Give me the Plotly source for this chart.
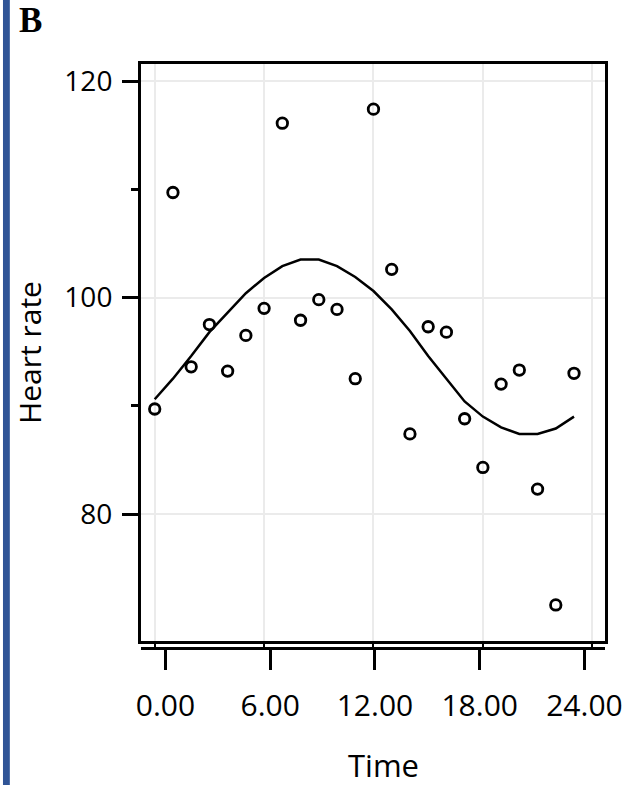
import plotly.graph_objects as go

# ---- data ----
hours = list(range(24))
heart_rate = [89.7, 109.7, 93.6, 97.5, 93.2, 96.5, 99.0, 116.1, 97.9, 99.8, 98.9, 92.5,
              117.4, 102.6, 87.4, 97.3, 96.8, 88.8, 84.3, 92.0, 93.3, 82.3, 71.6, 93.0]
fitted = [90.6, 92.5, 94.6, 96.8, 98.6, 100.4, 101.8, 102.9, 103.5, 103.5, 102.9, 101.9,
          100.6, 98.9, 96.9, 94.6, 92.5, 90.4, 89.0, 88.0, 87.4, 87.4, 87.9, 89.0]
x_ticks = [0, 6, 12, 18, 24]
y_ticks = [80, 100, 120]
y_minor = [90, 110]
panel_label = "B"
x_title = "Time"
y_title = "Heart rate"

W, H = 634, 785
ML, MR, MT, MB = 141, 19, 64, 137
PW, PH = W - ML - MR, H - MT - MB

def px_x(p):
    return (p - ML) / PW

def px_y(p):
    return (H - MB - p) / PH

tick_font = "Open Sans, Roboto, sans-serif"

fig = go.Figure()
fig.add_trace(go.Scatter(x=hours, y=fitted, mode="lines",
                         line=dict(color="black", width=2.5),
                         showlegend=False, hoverinfo="skip"))
fig.add_trace(go.Scatter(x=hours, y=heart_rate, mode="markers",
                         marker=dict(symbol="circle-open", size=10.5, color="black",
                                     line=dict(width=2.8, color="black")),
                         showlegend=False))
# invisible trace to carry the lower labelled time axis
fig.add_trace(go.Scatter(x=x_ticks, y=[None] * len(x_ticks), xaxis="x2", yaxis="y",
                         mode="markers", showlegend=False, hoverinfo="skip"))

fig.update_layout(
    width=W, height=H,
    margin=dict(l=ML, r=MR, t=MT, b=MB),
    paper_bgcolor="white", plot_bgcolor="white",
    xaxis=dict(domain=[0, 1], range=[-0.752, 24.70], tickvals=x_ticks,
               showticklabels=False, ticks="outside", ticklen=6, tickwidth=2,
               tickcolor="black",
               showgrid=True, gridcolor="#ebebeb", gridwidth=2,
               showline=True, linecolor="black", linewidth=3, mirror=True,
               zeroline=False, fixedrange=True),
    xaxis2=dict(overlaying="x", range=[-1.402, 25.178],
                anchor="free", position=0, tickvals=x_ticks, tickformat=".2f",
                ticks="outside", ticklen=20, tickwidth=3, tickcolor="black",
                showgrid=False, showline=True, linecolor="black", linewidth=3,
                zeroline=False, ticklabelstandoff=10,
                tickfont=dict(family=tick_font, size=30, color="black")),
    yaxis=dict(domain=[px_y(641), 1], range=[68.27, 121.57], tickvals=y_ticks,
               ticks="outside", ticklen=16, tickwidth=3, tickcolor="black",
               minor=dict(tickvals=y_minor, ticks="outside", ticklen=7, tickwidth=3,
                          tickcolor="black", showgrid=False),
               showgrid=True, gridcolor="#ebebeb", gridwidth=2,
               showline=True, linecolor="black", linewidth=3, mirror=True,
               zeroline=False, ticklabelstandoff=4,
               tickfont=dict(family=tick_font, size=28, color="black"),
               title=dict(text=y_title, standoff=14,
                          font=dict(family="Open Sans, sans-serif", size=30, color="black"))),
    shapes=[dict(type="rect", xref="paper", yref="paper",
                 x0=px_x(0), x1=px_x(7), y0=px_y(H), y1=px_y(0),
                 fillcolor="#2f5496", line=dict(width=0), layer="below")],
    annotations=[
        dict(text="<b>" + panel_label + "</b>", xref="paper", yref="paper",
             x=px_x(14), y=px_y(-1), xanchor="left", yanchor="top",
             showarrow=False,
             font=dict(family="Liberation Serif, Times New Roman, serif",
                       size=35, color="black")),
        dict(text=x_title, xref="paper", yref="paper",
             x=px_x(389), y=px_y(788), xanchor="center", yanchor="bottom",
             showarrow=False,
             font=dict(family="Open Sans, sans-serif", size=31, color="black")),
    ],
)

fig.write_html("out.html", config={"displayModeBar": False},
               post_script="document.body.style.margin='0px';")
